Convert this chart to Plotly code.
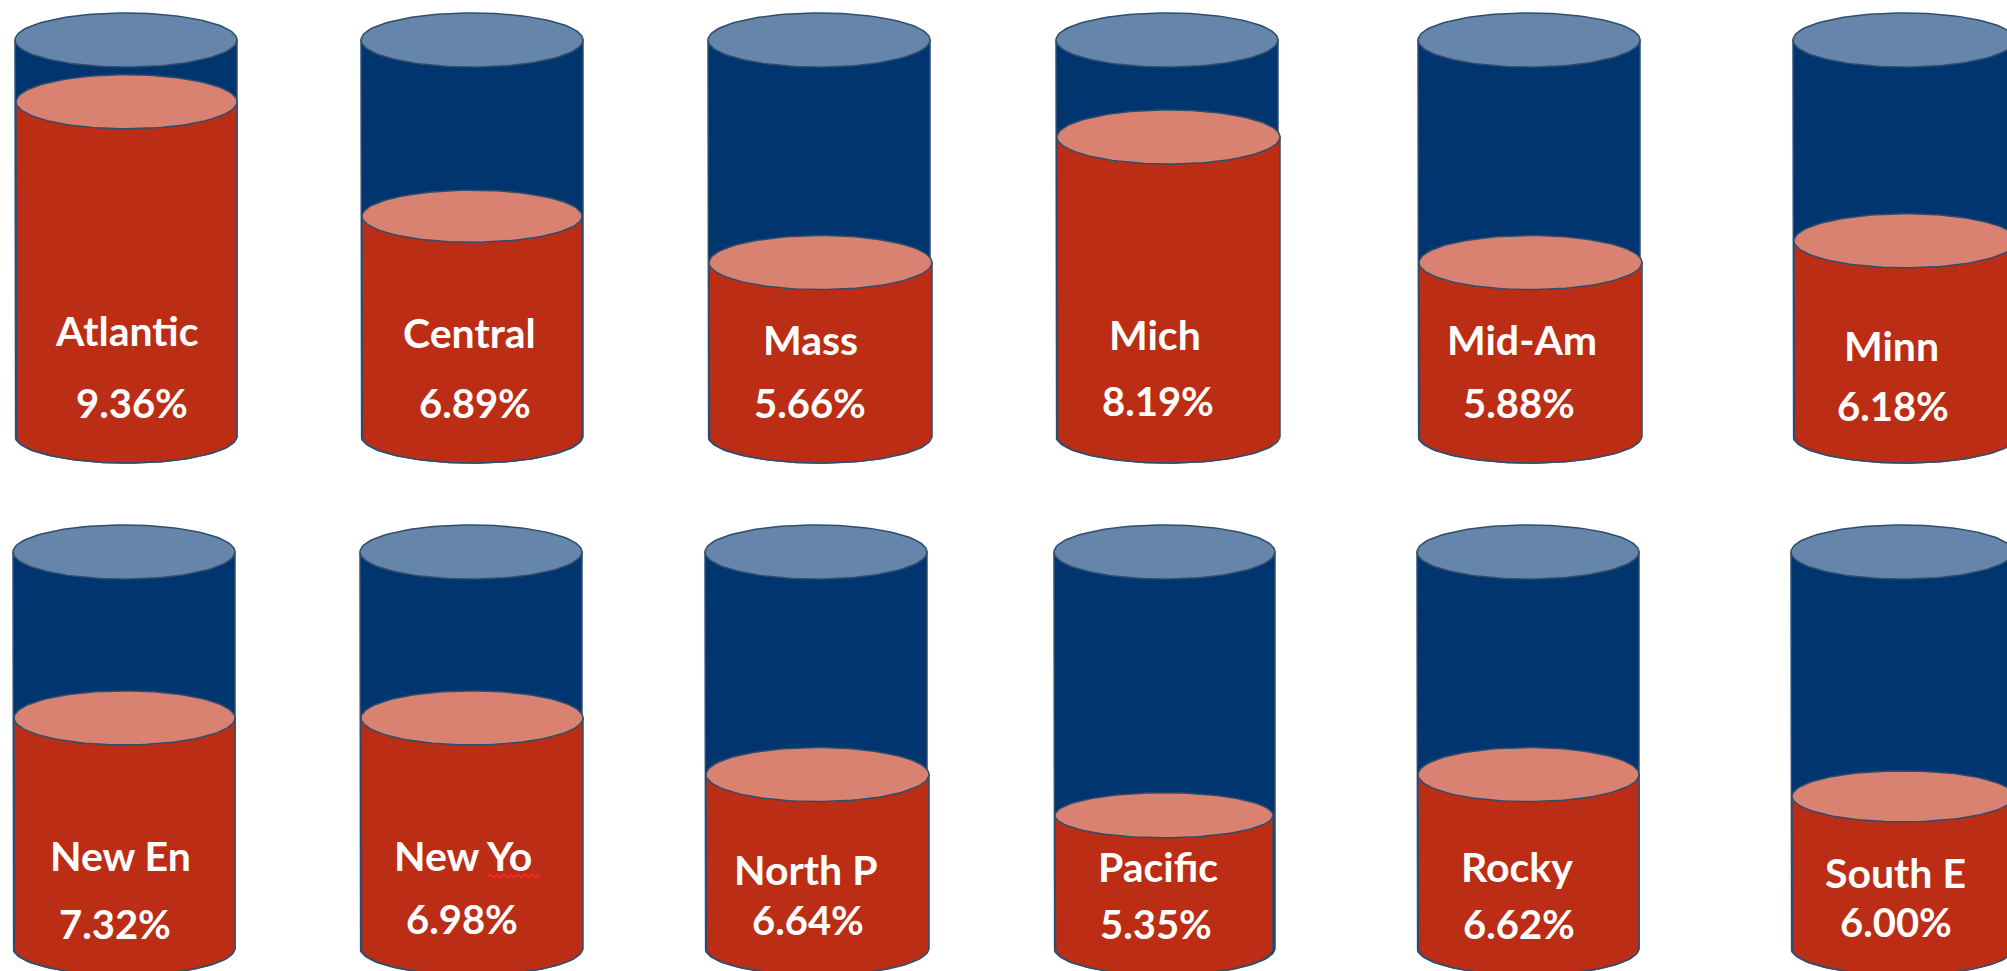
import numpy as np
import plotly.graph_objects as go

# ---- data ----
regions = ["Atlantic", "Central", "Mass", "Mich", "Mid-Am", "Minn",
           "New En", "New Yo", "North P", "Pacific", "Rocky", "South E"]
rates = [9.36, 6.89, 5.66, 8.19, 5.88, 6.18,
         7.32, 6.98, 6.64, 5.35, 6.62, 6.00]
# how full each tank is drawn (percent of tank height)
fill_pct = [84.4, 55.5, 43.8, 75.5, 43.8, 49.3,
            58.1, 58.1, 43.8, 33.5, 43.8, 38.3]

# ---- layout (canvas pixels) ----
W, H = 2007, 971
TANK_H = 396.0
UNIT = TANK_H / 100.0            # pixels per fill percent
tank_left = [15, 361, 708, 1056, 1418, 1793, 13, 360, 705, 1054, 1417, 1791]
tank_w = [222, 222, 222, 222, 222, 222, 222, 222, 222, 221, 222, 222]
fill_left = [16, 362, 709, 1057, 1419, 1794, 14, 361, 706, 1055, 1418, 1792]
fill_w = [221, 220, 223, 223, 223, 223, 221, 222, 223, 218, 221, 222]
fill_ry = [27, 26, 27, 27, 27, 27, 27, 27, 27, 22.5, 27, 25.5]
row = [0] * 6 + [1] * 6
base_px = [436, 948]
RY = 27
label_xy = [(99, 258), (367, 260), (633, 265), (902, 261), (1189, 265), (1478, 270),
            (94, 668), (362, 668), (630, 679), (905, 677), (1185, 677), (1481, 682)]
value_xy = [(103, 315), (371, 315), (633, 315), (905, 313), (1187, 315), (1479, 317),
            (90, 722), (361, 718), (631, 719), (903, 722), (1187, 722), (1481, 720)]
DISPLAY = W / 1568.0
NAME_SIZE, VALUE_SIZE = 41, 40

NAVY, RED, TOP, SURF, EDGE = "#00356F", "#BB2E15", "#6685AB", "#D98272", "#2F4E6E"
SQUIGGLE = "#FF2A2A"


def y_of(px):
    return H - px


def ellipse(cx, cy, rx, ry):
    t = np.linspace(0, 2 * np.pi, 121)
    return cx + rx * np.cos(t), cy + ry * np.sin(t)


def body(x0, w, y_top, y_bot, ry):
    cx, rx = x0 + w / 2, w / 2
    t = np.linspace(np.pi, 2 * np.pi, 61)
    xs = np.concatenate([[x0], cx + rx * np.cos(t), [x0 + w, x0]])
    ys = np.concatenate([[y_top], y_bot + ry * np.sin(t), [y_top, y_top]])
    return xs, ys


def shape(xs, ys, fill, width=1.5):
    return go.Scatter(x=xs, y=ys, mode="lines", fill="toself", fillcolor=fill,
                      line=dict(color=EDGE, width=width), hoverinfo="skip",
                      showlegend=False)


fig = go.Figure()
annotations = []
for i, name in enumerate(regions):
    y_base = y_of(base_px[row[i]])
    y_top = y_base + TANK_H
    y_fill = y_base + fill_pct[i] * UNIT
    x0, tw = tank_left[i], tank_w[i]
    fx, fw, fry = fill_left[i], fill_w[i], fill_ry[i]

    fig.add_trace(shape(*body(x0, tw, y_top, y_base, RY), NAVY))
    fig.add_trace(shape(*ellipse(x0 + tw / 2, y_top, tw / 2, RY), TOP))
    fig.add_trace(shape(*body(fx, fw, y_fill, y_base, RY), RED))
    fig.add_trace(shape(*ellipse(fx + fw / 2, y_fill, fw / 2, fry), SURF))

    for (px, py), txt, size in ((label_xy[i], name, NAME_SIZE),
                                (value_xy[i], f"{rates[i]:.2f}%", VALUE_SIZE)):
        annotations.append(dict(x=px * DISPLAY, y=y_of(py * DISPLAY), text=txt,
                                xref="x", yref="y", showarrow=False,
                                xanchor="center", yanchor="middle",
                                font=dict(family="Lato", size=size, color="white",
                                          weight="bold")))

# spell-check squiggle under "Yo" in the source slide
sx = np.arange(487, 541, 1.0)
fig.add_trace(go.Scatter(x=sx, y=y_of(876) + 1.4 * np.cos(sx * 2 * np.pi / 7),
                         mode="lines", line=dict(color=SQUIGGLE, width=1.6),
                         hoverinfo="skip", showlegend=False))

fig.update_layout(
    width=W, height=H, margin=dict(l=0, r=0, t=0, b=0),
    paper_bgcolor="white", plot_bgcolor="white", showlegend=False,
    annotations=annotations,
    xaxis=dict(range=[0, W], visible=False, fixedrange=True),
    yaxis=dict(range=[0, H], visible=False, fixedrange=True),
)
fig.write_html("out.html", config=dict(displayModeBar=False),
               post_script="document.body.style.margin='0';document.body.style.overflow='hidden';")
